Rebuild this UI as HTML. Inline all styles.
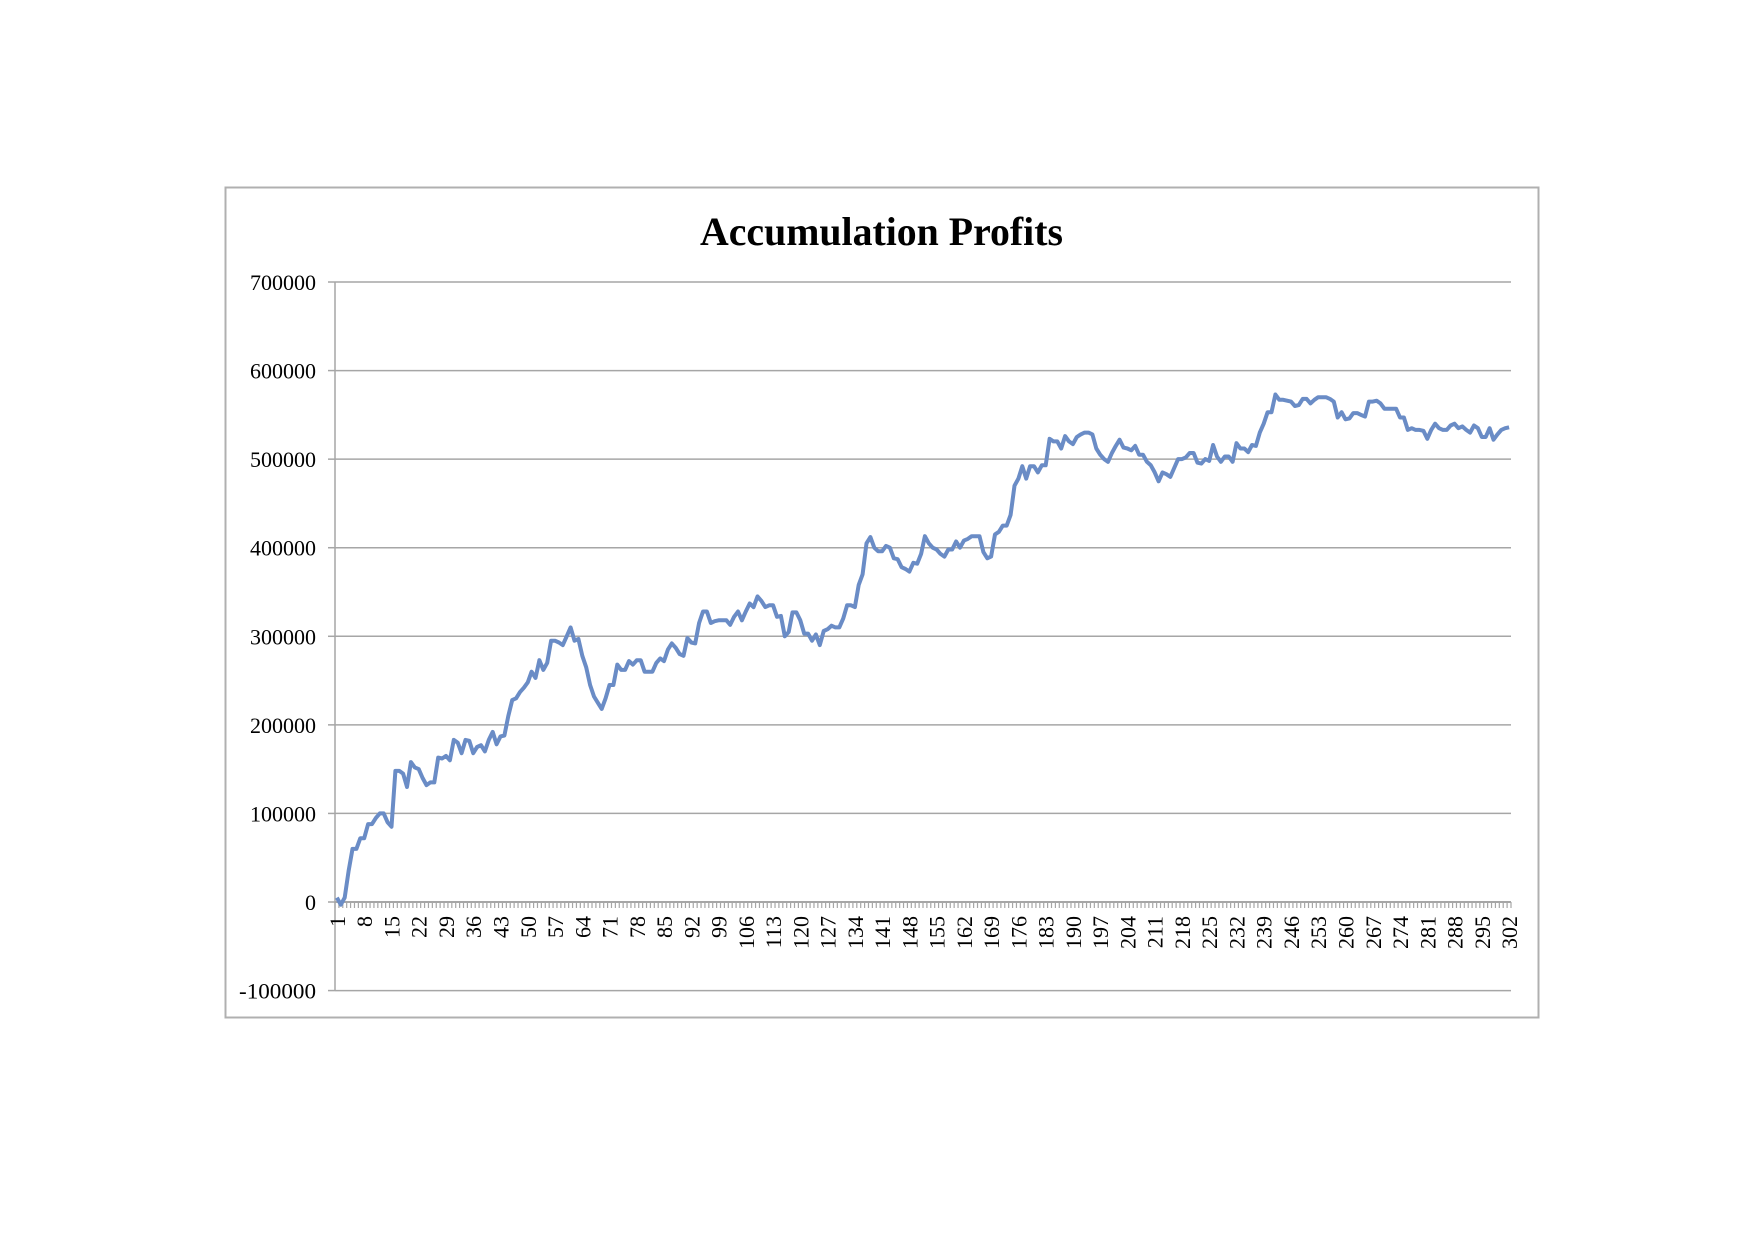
<!DOCTYPE html>
<html><head><meta charset="utf-8"><style>html,body{margin:0;padding:0;background:#fff}svg{display:block}</style></head>
<body>
<svg id="s" width="1754" height="1239" xmlns="http://www.w3.org/2000/svg" font-family="Liberation Serif, serif">
<rect x="225.5" y="187.5" width="1313" height="830" fill="#fff" stroke="#b0b0b0" stroke-width="2"/>
<text x="881.5" y="245" font-size="40" font-weight="bold" text-anchor="middle" textLength="363" lengthAdjust="spacingAndGlyphs">Accumulation Profits</text>
<g id="g"></g>
</svg>
<script>
const d=[5,-3,5,35,60,60,72,72,88,88,95,100,100,90,85,148,148,145,130,158,152,150,140,132,135,135,163,162,165,160,183,180,168,183,182,168,175,177,170,183,192,178,187,188,210,228,230,237,242,248,260,253,273,262,270,295,295,293,290,300,310,295,297,278,265,245,232,225,218,230,245,245,268,262,262,272,268,273,273,260,260,260,270,275,272,285,292,287,280,278,298,293,292,315,328,328,315,317,318,318,318,313,322,328,318,328,337,333,345,340,333,335,335,322,323,300,305,327,327,318,303,303,295,302,290,306,308,312,310,310,320,335,335,333,358,370,405,412,400,396,396,402,400,388,387,378,376,373,383,382,393,413,405,400,398,393,390,398,398,407,400,408,410,413,413,413,395,388,390,415,418,425,425,437,470,478,492,478,492,492,485,493,493,523,520,520,512,526,520,517,525,528,530,530,528,512,505,500,497,507,515,522,513,512,510,515,505,505,497,493,485,475,485,483,480,490,500,500,502,507,507,496,495,500,498,516,503,497,503,503,497,518,512,512,508,516,515,530,540,553,553,573,567,567,566,565,560,561,568,568,563,567,570,570,570,568,565,547,553,545,546,552,552,550,548,565,565,566,563,557,557,557,557,547,547,533,535,533,533,532,523,533,540,535,533,533,538,540,535,537,533,530,538,535,525,525,535,522,528,533,535,536];
const L=335,R=1511,Y0=902,k=0.8857,N=302,w=(R-L)/N;
let h='';
const Y=v=>Y0-v*k;
for(let v=-100;v<=700;v+=100){const y=Y(v);
 if(v!==0)h+=`<line x1="${L}" y1="${y}" x2="${R}" y2="${y}" stroke="#a6a6a6" stroke-width="1.5"/>`;
 h+=`<line x1="${L-7}" y1="${y}" x2="${L}" y2="${y}" stroke="#a6a6a6" stroke-width="1.5"/>`;
 h+=`<text x="316" y="${y+8}" font-size="22" text-anchor="end" textLength="${(String(v*1000).length)*11}" lengthAdjust="spacingAndGlyphs">${v*1000}</text>`;}
h+=`<line x1="${L}" y1="${Y(700)}" x2="${L}" y2="${Y(-100)}" stroke="#a6a6a6" stroke-width="1.5"/>`;
h+=`<line x1="${L}" y1="${Y0}" x2="${R}" y2="${Y0}" stroke="#a6a6a6" stroke-width="2"/>`;
for(let i=0;i<=N;i++){const x=L+i*w;h+=`<line x1="${x}" y1="${Y0}" x2="${x}" y2="${Y0+6}" stroke="#a6a6a6" stroke-width="1.2"/>`;}
for(let i=1;i<=302;i+=7){const x=L+(i-0.5)*w+8;h+=`<text transform="translate(${x},916) rotate(-90)" font-size="22" text-anchor="end">${i}</text>`;}
let p=d.map((v,i)=>`${(L+(i+0.5)*w).toFixed(1)},${Y(v).toFixed(1)}`).join(' ');
h+=`<polyline points="${p}" fill="none" stroke="#6a8cc6" stroke-width="4" stroke-linejoin="round"/>`;
document.getElementById('g').innerHTML=h;
</script>
</body></html>
